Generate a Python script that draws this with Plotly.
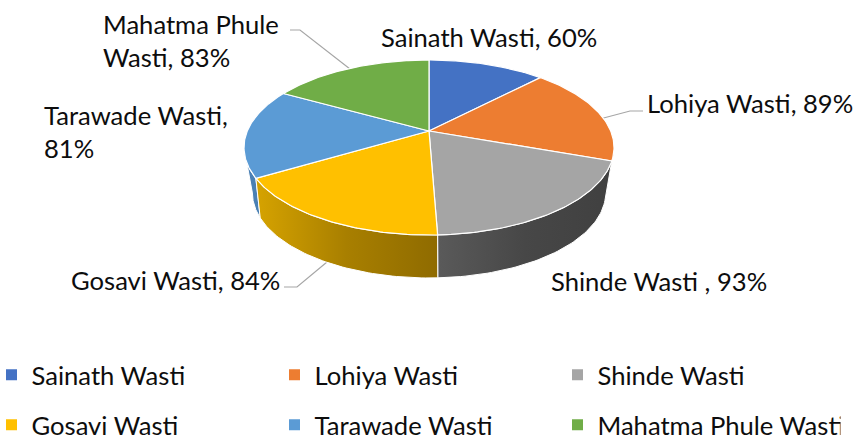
import numpy as np
import plotly.graph_objects as go

categories = ["Sainath Wasti", "Lohiya Wasti", "Shinde Wasti", "Gosavi Wasti", "Tarawade Wasti", "Mahatma Phule Wasti"]
values = [60, 89, 93, 84, 81, 83]
label_texts = ["Sainath Wasti", "Lohiya Wasti", "Shinde Wasti ", "Gosavi Wasti", "Tarawade Wasti,<br>", "Mahatma Phule<br>Wasti"]
top_colors = ["#4472C4", "#ED7D31", "#A5A5A5", "#FFC000", "#5B9BD5", "#70AD47"]
side_gradients = [None, ["#b5602a", "#a85824"], ["#5a5a5a", "#474747", "#404040"],
                  ["#d6a300", "#a87f00", "#8f6b00"], ["#4a80b4", "#4a80b4"], None]
label_x = [379, 645, 549, 69, 42, 101]
label_y = [37, 103, 281, 280, 131, 40]

CX, CY = 429, 131
R, K, P = 181.7, 84.4, 0.1886
R_LOW, K_LOW, P_LOW, DROP = 171.0, 79.7, 0.25, 40.7


def project(theta_deg, r, k, p, drop):
    t = np.radians(theta_deg)
    xx, yy = np.sin(t), -np.cos(t)
    s = 1 / (1 - p * yy)
    return CX + r * xx * s, CY + drop + k * yy * s


def silhouette(p):
    """Angles at which a projected rim is widest, on the right and on the left."""
    a = np.degrees(np.arccos(-p))
    return a, 360 - a


edges = np.concatenate([[0], np.cumsum(values)]) / sum(values) * 360
fig = go.Figure()

# Sides (painted first, from the back towards the front)
top_a, top_b = silhouette(P)
low_a, low_b = silhouette(P_LOW)
for i in [4, 1, 2, 3]:
    th_top = np.linspace(max(edges[i], top_a), min(edges[i + 1], top_b), 60)
    th_low = np.linspace(max(edges[i], low_a), min(edges[i + 1], low_b), 60)
    x1, y1 = project(th_top, R, K, P, 0)
    x2, y2 = project(th_low[::-1], R_LOW, K_LOW, P_LOW, DROP)
    grad = side_gradients[i]
    stops = [[j / (len(grad) - 1), c] for j, c in enumerate(grad)]
    fig.add_trace(go.Scatter(
        x=np.concatenate([x1, x2, x1[:1]]), y=np.concatenate([y1, y2, y1[:1]]),
        mode="lines", fill="toself", line=dict(color="white", width=1),
        fillgradient=dict(type="horizontal", colorscale=stops),
        hoverinfo="skip", showlegend=False))

# Top face
for i, cat in enumerate(categories):
    th = np.linspace(edges[i], edges[i + 1], 80)
    x, y = project(th, R, K, P, 0)
    fig.add_trace(go.Scatter(
        x=np.concatenate([[CX], x, [CX]]), y=np.concatenate([[CY], y, [CY]]),
        mode="lines", fill="toself", fillcolor=top_colors[i],
        line=dict(color="white", width=1.2), name=cat, text=f"{cat}: {values[i]}%",
        hoverinfo="text", showlegend=False))

# Legend entries, two rows
for i, cat in enumerate(categories):
    fig.add_trace(go.Scatter(
        x=[None], y=[None], mode="markers", name=cat,
        marker=dict(symbol="square", size=11, color=top_colors[i]),
        legend="legend" if i < 3 else "legend2", showlegend=True))

FONT = "Lato"
FS = 25.6
annotations = []
for i, txt in enumerate(label_texts):
    if txt.endswith("<br>"):
        text = f"{txt}{values[i]}%"
    else:
        text = f"{txt}, {values[i]}%"
    annotations.append(dict(x=label_x[i], y=label_y[i], xref="x", yref="y", text=text,
                            showarrow=False, xanchor="left", yanchor="middle", align="left",
                            font=dict(family=FONT, size=FS, color="#0d0d0d")))


def leader(points):
    path = "M " + " L ".join(f"{a},{b}" for a, b in points)
    return dict(type="path", path=path, xref="x", yref="y", layer="below",
                line=dict(color="#a6a6a6", width=1.2))


legend_common = dict(orientation="h", xanchor="center", yanchor="middle", x=416 / 857,
                     entrywidth=238, entrywidthmode="pixels", bgcolor="rgba(0,0,0,0)",
                     font=dict(family=FONT, size=FS, color="#0d0d0d"), traceorder="normal")

fig.update_layout(
    width=857, height=439,
    margin=dict(l=0, r=0, t=0, b=0, autoexpand=False),
    paper_bgcolor="white", plot_bgcolor="white",
    xaxis=dict(range=[0, 857], visible=False, fixedrange=True),
    yaxis=dict(range=[439, 0], visible=False, fixedrange=True),
    annotations=annotations,
    shapes=[leader([(290, 30), (300, 30), (350, 69)]),
            leader([(284, 287), (297, 287), (327, 262)]),
            leader([(596, 120), (630, 111), (643, 111)])],
    legend=dict(y=1 - 375 / 439, **legend_common),
    legend2=dict(y=1 - 425 / 439, **legend_common),
)
fig.write_html("out.html", config={"displayModeBar": False},
               post_script="document.body.style.margin='0';")
